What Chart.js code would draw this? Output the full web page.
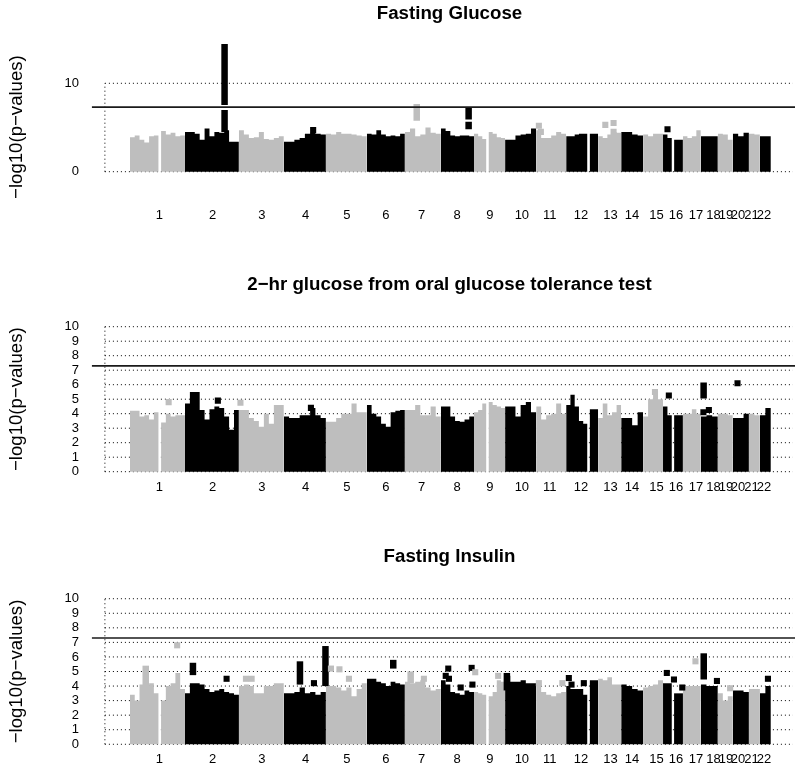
<!DOCTYPE html>
<html>
<head>
<meta charset="utf-8">
<script src="https://cdn.jsdelivr.net/npm/chart.js@4.4.1/dist/chart.umd.min.js"></script>
<style>
  html, body { margin: 0; background: #fff; overflow: hidden; height: 769px; }
  .panel { position: absolute; left: 0; width: 800px; }
</style>
</head>
<body>
<div class="panel" style="top:0px"><canvas id="glucose" width="800" height="250"></canvas></div>
<div class="panel" style="top:270px"><canvas id="ogtt" width="800" height="250"></canvas></div>
<div class="panel" style="top:540px"><canvas id="insulin" width="800" height="250"></canvas></div>
<script>
// chromosome layout (Mb along the genome axis)
const chromosomes = ['1','2','3','4','5','6','7','8','9','10','11','12','13','14','15','16','17','18','19','20','21','22'];
const chrSpanMb = [246,241,201,188,183,170,161,148,139,139,134,143,103,98,89,89,80,76,67,72,49,49];
const chrTickMb = [131,370,590,785,970,1144,1304,1462,1609,1752,1877,2016,2148,2244,2354,2441,2530,2609,2664,2718,2779,2834];
const gwsThreshold = 7.3;

// top of the dense cloud of SNPs per chromosome, left to right (null = gap with no SNPs)
const glucoseTops = [
  [3.9,4.1,3.6,3.3,4.0,4.1,null,4.6,4.2,4.4,4.0,4.1],
  [4.5,4.5,4.3,3.6,4.9,4.0,4.5,4.4,4.7,3.4,3.4],
  [4.7,4.2,3.8,3.9,4.5,3.7,3.6,3.8,4.0],
  [3.4,3.4,3.6,3.8,4.3,4.4,4.3,4.2],
  [4.3,4.2,4.5,4.3,4.3,4.2,4.1,4.0],
  [4.3,4.2,4.7,4.2,4.0,4.1,4.0,4.3],
  [4.5,4.9,4.0,4.2,5.0,4.4,4.3],
  [4.9,4.6,4.1,4.0,4.1,4.1,4.0],
  [4.3,4.0,3.7,null,4.5,4.3,3.9,3.8],
  [3.6,3.6,4.1,4.2,4.3,4.9],
  [4.7,3.8,3.8,4.1,4.5,4.3],
  [4.0,4.0,4.2,4.3,4.3,null,4.3,4.3],
  [4.0,3.8,4.2,4.5,4.4],
  [4.5,4.5,4.2,4.1],
  [4.2,4.0,4.3,4.3],
  [4.2,3.8,null,3.6,3.6],
  [4.0,3.8,4.0,4.7],
  [4.0,4.0,4.0],
  [4.3,4.2,3.6],
  [4.3,4.0,4.4],
  [4.3,4.2],
  [4.0,4.0]
];
const ogttTops = [
  [4.2,4.2,3.8,3.9,3.6,4.1,null,3.4,4.0,3.8,3.9,3.9],
  [4.7,5.5,5.5,4.25,3.6,4.3,4.5,4.4,3.8,2.9,4.25],
  [4.25,4.25,3.7,3.5,3.1,4.0,3.3,4.6,4.6],
  [3.8,3.7,3.7,3.9,3.9,4.4,3.9,3.7],
  [3.45,3.45,3.7,4.0,4.0,4.7,4.1,4.1],
  [4.6,4.0,3.8,3.3,3.1,4.1,4.2,4.25],
  [4.25,4.25,4.6,3.9,3.9,4.5,3.8],
  [4.5,4.5,3.8,3.5,3.45,3.6,3.8],
  [4.1,4.25,4.7,null,4.8,4.6,4.5,4.4],
  [4.5,4.5,3.8,4.6,4.8,4.1],
  [4.5,3.6,3.9,4.0,4.7,4.0],
  [4.6,5.3,4.5,3.5,3.3,null,4.3,4.3],
  [3.7,4.7,3.9,4.1,4.6],
  [3.7,3.7,3.2,4.1],
  [3.8,5.0,5.6,5.0],
  [4.5,3.9,null,3.9,3.9],
  [4.0,4.0,4.3,4.0],
  [3.8,3.9,3.8],
  [4.0,4.0,3.9],
  [3.7,3.7,4.0],
  [4.0,3.9],
  [3.9,4.4]
];
const insulinTops = [
  [3.4,3.0,4.1,4.0,4.2,3.5,null,3.0,4.0,4.2,4.9,3.8],
  [3.5,4.2,4.2,4.1,3.8,3.6,3.7,3.8,3.6,3.5,3.4],
  [4.0,4.1,4.0,3.5,3.5,4.0,4.0,4.2,4.2],
  [3.5,3.5,3.6,3.9,3.5,3.6,3.4,3.6],
  [4.0,4.0,3.9,3.7,3.9,3.3,3.8,4.2],
  [4.5,4.5,4.3,4.2,4.0,4.3,4.2,4.1],
  [4.3,4.2,4.3,4.4,3.9,3.7,3.8],
  [4.4,4.1,3.6,3.5,3.4,3.7,3.6],
  [3.6,3.5,3.4,null,3.3,3.6,4.4,4.3],
  [4.7,4.3,4.3,4.4,4.2,4.2],
  [4.0,3.6,3.4,3.3,3.5,3.6],
  [4.0,3.8,3.8,3.8,3.4,null,4.4,4.4],
  [4.5,4.4,4.6,4.1,4.1],
  [4.1,4.0,3.8,3.7],
  [3.9,4.0,4.1,4.4],
  [4.2,4.2,null,3.5,3.5],
  [4.0,4.0,4.0,4.0],
  [4.1,4.0,4.0],
  [3.5,3.0,3.3],
  [3.7,3.7,3.6],
  [3.8,3.8],
  [3.5,4.0]
];

// stacked runs of SNPs: [chromosome, Mb into chromosome, lowest, highest]
const glucoseRuns = [[2,177,7.55,14.45],[2,177,4.5,6.98],[7,53,5.77,7.66],[8,124,5.9,7.28],[8,124,4.79,5.66]];
const ogttRuns = [[18,12.5,5.05,6.15]];
const insulinRuns = [[1,70.6,4.0,5.4],[2,35.6,4.75,5.6],[4,72,4.1,5.7],[4,186,4.0,6.75],[6,118,5.2,5.8],[7,26,4.2,5.0],[10,8,3.7,4.9],[18,13,4.45,6.25]];

// single SNPs standing out: [chromosome, Mb into chromosome, -log10 p]
const glucoseHits = [[4,131,4.7],[11,12,5.2],[11,21,4.5],[13,32,5.3],[13,69,5.5],[13,69,4.5],[16,20,4.8]];
const ogttHits = [[1,173,4.8],[2,147,4.9],[3,7,4.75],[4,121,4.4],[15,53,5.5],[16,26,5.25],[18,11.6,4.1],[18,36,4.25],[20,21,6.1]];
const insulinHits = [[1,211,6.8],[2,186,4.5],[3,31.5,4.5],[3,57,4.5],[4,134.5,4.2],[5,22.5,5.2],[5,60.5,5.15],[5,103,4.5],
  [7,85,4.5],[8,21.6,4.7],[8,33,5.2],[8,36,4.5],[8,88.6,3.9],[8,137.4,5.25],[8,141,4.1],[9,5.5,4.95],[9,108,4.7],
  [11,12,4.2],[11,117,4.2],[12,12,4.55],[12,24,4.1],[12,79,4.2],[16,17,4.9],[16,49,4.45],[16,86,3.9],[17,56,5.7],
  [18,72,4.35],[19,55,3.85],[22,36,4.5]];

Chart.defaults.font.family = "'Liberation Sans', Arial, Helvetica, sans-serif";
Chart.defaults.color = '#000';

const GRAY = '#bebebe';
const BLACK = '#000000';
const X_MIN = -116, X_MAX = 2973;
const GRID_FROM = -112, GRID_TO = 2964, LINE_FROM = -170;

const chrStart = [];
let acc = 0;
chrSpanMb.forEach(s => { chrStart.push(acc); acc += s; });
const colorOf = ci => ci % 2 === 0 ? GRAY : BLACK;

const envelope = (tops, ci) => {
  const w = tops.map(v => v === null ? 0.5 : 1);
  const unit = chrSpanMb[ci] / w.reduce((a, b) => a + b, 0);
  let x = chrStart[ci];
  const pts = [];
  tops.forEach((v, k) => {
    const x2 = x + w[k] * unit;
    if (v === null) pts.push({x: (x + x2) / 2, y: null});
    else { pts.push({x: x, y: v}); pts.push({x: x2, y: v}); }
    x = x2;
  });
  return {data: pts, fill: 'origin', backgroundColor: colorOf(ci), borderWidth: 0,
    pointRadius: 0, spanGaps: false, order: 5};
};

const run = r => {
  const ci = r[0] - 1, x = chrStart[ci] + r[1];
  return {data: [{x: x, y: r[2]}, {x: x, y: r[3]}], borderColor: colorOf(ci), borderWidth: 6.5,
    borderCapStyle: 'butt', pointRadius: 0, fill: false, order: 2};
};

const hitSet = list => ({
  data: list.map(h => ({x: chrStart[h[0] - 1] + h[1], y: h[2]})),
  showLine: false, pointStyle: 'rect', pointRadius: 4.3, pointBorderWidth: 0,
  pointBackgroundColor: list.map(h => colorOf(h[0] - 1)), order: 1
});

const gridSets = levels => {
  const sets = levels.map(k => ({data: [{x: GRID_FROM, y: k}, {x: GRID_TO, y: k}],
    borderColor: '#000', borderWidth: 1, borderDash: [1, 3], pointRadius: 0, order: 9}));
  sets.push({data: [{x: GRID_FROM, y: 0}, {x: GRID_FROM, y: 10}],
    borderColor: '#000', borderWidth: 1, borderDash: [1, 3], pointRadius: 0, order: 9});
  return sets;
};

const makePanel = (id, p) => {
  const datasets = gridSets(p.grid)
    .concat(p.tops.map((t, ci) => envelope(t, ci)))
    .concat(p.runs.map(run))
    .concat([hitSet(p.hits)])
    .concat([{data: [{x: LINE_FROM, y: gwsThreshold}, {x: X_MAX, y: gwsThreshold}],
      borderColor: '#1a1a1a', borderWidth: 1.6, pointRadius: 0, clip: false, order: 0}]);

  return new Chart(document.getElementById(id), {
    type: 'line',
    data: {datasets: datasets},
    options: {
      responsive: false,
      animation: false,
      events: [],
      layout: {padding: {left: 0, right: 5, top: 0, bottom: 0}},
      plugins: {
        legend: {display: false},
        tooltip: {enabled: false},
        title: {
          display: true, text: p.title, fullSize: false, color: '#000',
          font: {size: 18.7, weight: 'bold'},
          padding: {top: p.titleTop, bottom: p.titleBottom}
        }
      },
      scales: {
        x: {
          type: 'linear', min: X_MIN, max: X_MAX,
          grid: {display: false, drawTicks: false}, border: {display: false},
          ticks: {
            autoSkip: false, maxRotation: 0, minRotation: 0, padding: p.xPad, mirror: p.xMirror,
            font: {size: 13}, color: '#000',
            callback: (v, i) => chromosomes[i]
          },
          afterBuildTicks: s => { s.ticks = chrTickMb.map(v => ({value: v})); },
          afterFit: s => { s.height = p.xHeight; }
        },
        y: {
          type: 'linear', min: p.yMin, max: p.yMax,
          grid: {display: false, drawTicks: false}, border: {display: false},
          ticks: {autoSkip: false, padding: 25, font: {size: 13}, color: '#000'},
          afterBuildTicks: s => { s.ticks = p.yTicks.map(v => ({value: v})); },
          afterFit: s => { s.width = 104; },
          title: {display: true, text: '\u2212log10(p\u2212values)', color: '#000',
            font: {size: 18.6}, padding: {top: 6, bottom: 0}}
        }
      }
    }
  });
};

const allLevels = [0,1,2,3,4,5,6,7,8,9,10];

makePanel('glucose', {
  title: 'Fasting Glucose', tops: glucoseTops, runs: glucoseRuns, hits: glucoseHits,
  grid: [0, 10], yTicks: [0, 10], yMin: -5, yMax: 15.1,
  titleTop: 2.8, titleBottom: 12.96, xHeight: 34.1, xPad: -6.9, xMirror: true
});
makePanel('ogtt', {
  title: '2\u2212hr glucose from oral glucose tolerance test', tops: ogttTops, runs: ogttRuns, hits: ogttHits,
  grid: allLevels, yTicks: allLevels, yMin: -0.4, yMax: 10.4,
  titleTop: 3.3, titleBottom: 25.16, xHeight: 42.5, xPad: 2.2, xMirror: false
});
makePanel('insulin', {
  title: 'Fasting Insulin', tops: insulinTops, runs: insulinRuns, hits: insulinHits,
  grid: allLevels, yTicks: allLevels, yMin: -0.4, yMax: 10.4,
  titleTop: 5.3, titleBottom: 25.16, xHeight: 39.9, xPad: 1.3, xMirror: false
});
</script>
</body>
</html>
